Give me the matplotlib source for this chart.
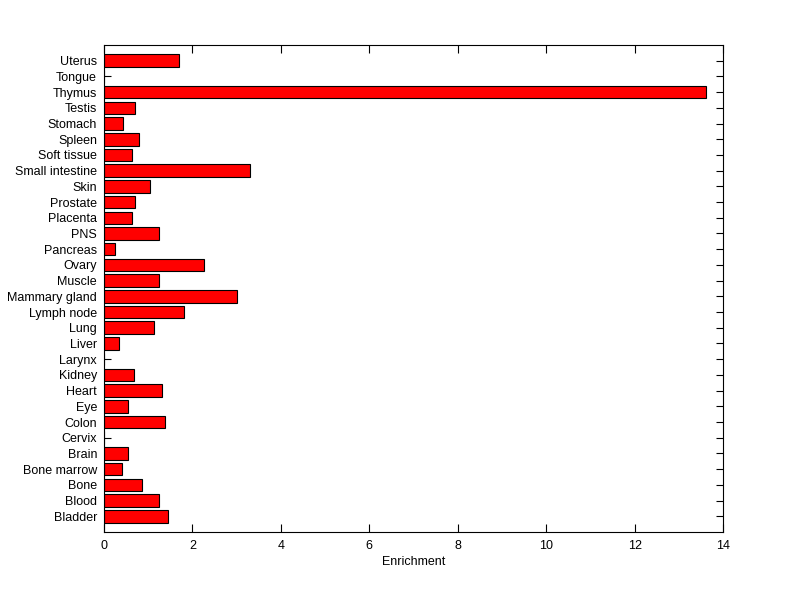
import matplotlib
matplotlib.use("Agg")
import matplotlib.pyplot as plt
import numpy as np

# Tissue names, bottom to top as drawn
tissues = ["Bladder", "Blood", "Bone", "Bone marrow", "Brain", "Cervix", "Colon",
           "Eye", "Heart", "Kidney", "Larynx", "Liver", "Lung", "Lymph node",
           "Mammary gland", "Muscle", "Ovary", "Pancreas", "PNS", "Placenta",
           "Prostate", "Skin", "Small intestine", "Soft tissue", "Spleen",
           "Stomach", "Testis", "Thymus", "Tongue", "Uterus"]
enrichment = [1.44, 1.24, 0.85, 0.41, 0.55, 0.0, 1.39,
              0.55, 1.32, 0.67, 0.0, 0.35, 1.12, 1.82,
              3.00, 1.24, 2.27, 0.24, 1.24, 0.64,
              0.69, 1.03, 3.31, 0.64, 0.80,
              0.44, 0.69, 13.62, 0.0, 1.70]
xticks = [0, 2, 4, 6, 8, 10, 12, 14]

plt.rcParams["font.family"] = ["Liberation Sans", "DejaVu Sans"]
plt.rcParams["font.size"] = 9

fig = plt.figure(figsize=(8.0, 5.99), dpi=100)
ax = fig.add_axes([0.13, 0.1119, 0.77375, 0.813])
ax.set_axisbelow(True)  # bars hide the inward y ticks, as in the original

pos = np.arange(1, len(tissues) + 1)
ax.barh(pos, enrichment, height=0.8, color="#ff0000", edgecolor="black", linewidth=0.8)

ax.set_xlim(0, 14)
ax.set_ylim(0, 31)
ax.set_xticks(xticks)
ax.set_xticklabels([str(t) for t in xticks])
ax.set_yticks(pos)
ax.set_yticklabels(tissues)
ax.set_xlabel("Enrichment", labelpad=3)

ax.tick_params(axis="x", direction="in", top=True, length=6, width=0.8, pad=6)
ax.tick_params(axis="y", direction="in", right=True, length=5, width=0.8, pad=5)
for s in ax.spines.values():
    s.set_linewidth(0.8)

fig.savefig("out.png", dpi=100, facecolor="white")
